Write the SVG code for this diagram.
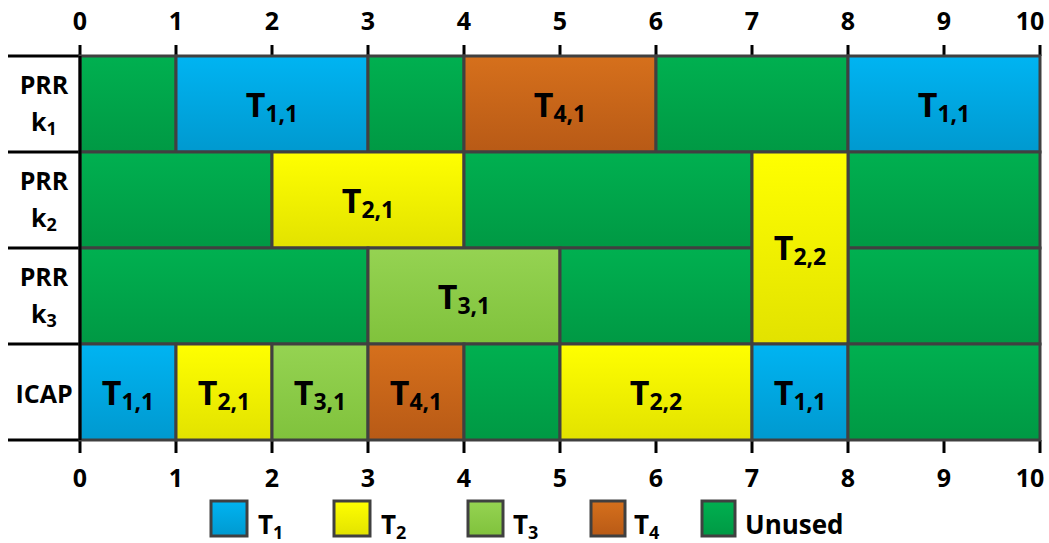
<svg xmlns="http://www.w3.org/2000/svg" width="1049" height="543" viewBox="0 0 1049 543">
<defs>
<linearGradient id="gBlue" x1="0" y1="0" x2="0" y2="1"><stop offset="0" stop-color="#00B4F2"/><stop offset="1" stop-color="#0099CF"/></linearGradient>
<linearGradient id="gYel" x1="0" y1="0" x2="0" y2="1"><stop offset="0" stop-color="#FFFF00"/><stop offset="1" stop-color="#E2E200"/></linearGradient>
<linearGradient id="gLG" x1="0" y1="0" x2="0" y2="1"><stop offset="0" stop-color="#95D352"/><stop offset="1" stop-color="#80C23C"/></linearGradient>
<linearGradient id="gOr" x1="0" y1="0" x2="0" y2="1"><stop offset="0" stop-color="#D6701C"/><stop offset="1" stop-color="#B85A16"/></linearGradient>
<linearGradient id="gGr" x1="0" y1="0" x2="0" y2="1"><stop offset="0" stop-color="#00B050"/><stop offset="1" stop-color="#009944"/></linearGradient>
</defs>
<style>
.blk{stroke:#404040;stroke-width:3}
.b{fill:url(#gBlue)}.y{fill:url(#gYel)}.l{fill:url(#gLG)}.o{fill:url(#gOr)}.g{fill:url(#gGr)}
.lbl{font-family:"Open Sans","Noto Sans",sans-serif;font-weight:bold;font-size:34px;fill:#000;text-anchor:middle}
.sub{font-size:23px}
.ax{font-family:"Open Sans","Noto Sans",sans-serif;font-weight:bold;font-size:25px;fill:#000;text-anchor:middle}
.rl{font-family:"Open Sans","Noto Sans",sans-serif;font-weight:bold;font-size:25px;fill:#000;text-anchor:middle}
.lg{font-family:"Open Sans","Noto Sans",sans-serif;font-weight:bold;font-size:26px;fill:#000}
.lgs{font-size:18px}
.tick{stroke:#000;stroke-width:3}
</style>
<rect width="1049" height="543" fill="#fff"/>

<g id="axes">
<g class="tick">
<line x1="8" y1="56" x2="80" y2="56"/><line x1="8" y1="152" x2="80" y2="152"/><line x1="8" y1="248" x2="80" y2="248"/><line x1="8" y1="344" x2="80" y2="344"/><line x1="8" y1="440" x2="80" y2="440"/>
<line x1="80" y1="45" x2="80" y2="56"/><line x1="176" y1="45" x2="176" y2="56"/><line x1="272" y1="45" x2="272" y2="56"/><line x1="368" y1="45" x2="368" y2="56"/><line x1="464" y1="45" x2="464" y2="56"/><line x1="560" y1="45" x2="560" y2="56"/><line x1="656" y1="45" x2="656" y2="56"/><line x1="752" y1="45" x2="752" y2="56"/><line x1="848" y1="45" x2="848" y2="56"/><line x1="944" y1="45" x2="944" y2="56"/><line x1="1040" y1="45" x2="1040" y2="56"/>
<line x1="80" y1="440" x2="80" y2="453"/><line x1="176" y1="440" x2="176" y2="453"/><line x1="272" y1="440" x2="272" y2="453"/><line x1="368" y1="440" x2="368" y2="453"/><line x1="464" y1="440" x2="464" y2="453"/><line x1="560" y1="440" x2="560" y2="453"/><line x1="656" y1="440" x2="656" y2="453"/><line x1="752" y1="440" x2="752" y2="453"/><line x1="848" y1="440" x2="848" y2="453"/><line x1="944" y1="440" x2="944" y2="453"/><line x1="1040" y1="440" x2="1040" y2="453"/>
</g>
<text class="ax" x="80" y="30">0</text><text class="ax" x="176" y="30">1</text><text class="ax" x="272" y="30">2</text><text class="ax" x="368" y="30">3</text><text class="ax" x="464" y="30">4</text><text class="ax" x="560" y="30">5</text><text class="ax" x="656" y="30">6</text><text class="ax" x="752" y="30">7</text><text class="ax" x="848" y="30">8</text><text class="ax" x="944" y="30">9</text><text class="ax" x="1030" y="30">10</text>
<text class="ax" x="80" y="487">0</text><text class="ax" x="176" y="487">1</text><text class="ax" x="272" y="487">2</text><text class="ax" x="368" y="487">3</text><text class="ax" x="464" y="487">4</text><text class="ax" x="560" y="487">5</text><text class="ax" x="656" y="487">6</text><text class="ax" x="752" y="487">7</text><text class="ax" x="848" y="487">8</text><text class="ax" x="944" y="487">9</text><text class="ax" x="1030" y="487">10</text>
</g>

<g id="row-labels">
<text class="rl" x="44" y="94">PRR</text><text class="rl" x="44" y="131">k<tspan class="lgs" dy="4">1</tspan></text>
<text class="rl" x="44" y="190">PRR</text><text class="rl" x="44" y="227">k<tspan class="lgs" dy="4">2</tspan></text>
<text class="rl" x="44" y="286">PRR</text><text class="rl" x="44" y="323">k<tspan class="lgs" dy="4">3</tspan></text>
<text class="rl" x="44" y="403">ICAP</text>
</g>

<g id="row1">
<rect id="r1-u1" class="blk g" x="80" y="56" width="96" height="96"/>
<g id="r1-t11"><rect class="blk b" x="176" y="56" width="192" height="96"/><text class="lbl" x="272" y="117">T<tspan class="sub" dy="5">1,1</tspan></text></g>
<rect id="r1-u2" class="blk g" x="368" y="56" width="96" height="96"/>
<g id="r1-t41"><rect class="blk o" x="464" y="56" width="192" height="96"/><text class="lbl" x="560" y="117">T<tspan class="sub" dy="5">4,1</tspan></text></g>
<rect id="r1-u3" class="blk g" x="656" y="56" width="192" height="96"/>
<g id="r1-t11b"><rect class="blk b" x="848" y="56" width="192" height="96"/><text class="lbl" x="944" y="117">T<tspan class="sub" dy="5">1,1</tspan></text></g>
</g>

<g id="row2">
<rect id="r2-u1" class="blk g" x="80" y="152" width="192" height="96"/>
<g id="r2-t21"><rect class="blk y" x="272" y="152" width="192" height="96"/><text class="lbl" x="368" y="213">T<tspan class="sub" dy="5">2,1</tspan></text></g>
<rect id="r2-u2" class="blk g" x="464" y="152" width="288" height="96"/>
<rect id="r2-u3" class="blk g" x="848" y="152" width="192" height="96"/>
</g>

<g id="row3">
<rect id="r3-u1" class="blk g" x="80" y="248" width="288" height="96"/>
<g id="r3-t31"><rect class="blk l" x="368" y="248" width="192" height="96"/><text class="lbl" x="464" y="309">T<tspan class="sub" dy="5">3,1</tspan></text></g>
<rect id="r3-u2" class="blk g" x="560" y="248" width="192" height="96"/>
<rect id="r3-u3" class="blk g" x="848" y="248" width="192" height="96"/>
</g>

<g id="t22-prr"><rect class="blk y" x="752" y="152" width="96" height="192"/><text class="lbl" x="800" y="260">T<tspan class="sub" dy="5">2,2</tspan></text></g>

<g id="icap">
<g id="i-t11"><rect class="blk b" x="80" y="344" width="96" height="96"/><text class="lbl" x="128" y="405">T<tspan class="sub" dy="5">1,1</tspan></text></g>
<g id="i-t21"><rect class="blk y" x="176" y="344" width="96" height="96"/><text class="lbl" x="224" y="405">T<tspan class="sub" dy="5">2,1</tspan></text></g>
<g id="i-t31"><rect class="blk l" x="272" y="344" width="96" height="96"/><text class="lbl" x="320" y="405">T<tspan class="sub" dy="5">3,1</tspan></text></g>
<g id="i-t41"><rect class="blk o" x="368" y="344" width="96" height="96"/><text class="lbl" x="416" y="405">T<tspan class="sub" dy="5">4,1</tspan></text></g>
<rect id="i-u1" class="blk g" x="464" y="344" width="96" height="96"/>
<g id="i-t22"><rect class="blk y" x="560" y="344" width="192" height="96"/><text class="lbl" x="656" y="405">T<tspan class="sub" dy="5">2,2</tspan></text></g>
<g id="i-t11b"><rect class="blk b" x="752" y="344" width="96" height="96"/><text class="lbl" x="800" y="405">T<tspan class="sub" dy="5">1,1</tspan></text></g>
<rect id="i-u2" class="blk g" x="848" y="344" width="192" height="96"/>
</g>

<g id="left-edge"><line class="tick" x1="80" y1="56" x2="80" y2="440"/></g>

<g id="legend">
<g id="lg-t1"><rect class="blk b" x="211" y="501" width="36" height="35"/><text class="lg" x="258" y="534">T<tspan class="lgs" dy="5">1</tspan></text></g>
<g id="lg-t2"><rect class="blk y" x="334" y="501" width="36" height="35"/><text class="lg" x="381" y="534">T<tspan class="lgs" dy="5">2</tspan></text></g>
<g id="lg-t3"><rect class="blk l" x="468" y="501" width="35" height="35"/><text class="lg" x="513" y="534">T<tspan class="lgs" dy="5">3</tspan></text></g>
<g id="lg-t4"><rect class="blk o" x="591" y="501" width="34" height="35"/><text class="lg" x="634" y="534">T<tspan class="lgs" dy="5">4</tspan></text></g>
<g id="lg-u"><rect class="blk g" x="702" y="501" width="33" height="35"/><text class="lg" x="745" y="534">Unused</text></g>
</g>
</svg>
